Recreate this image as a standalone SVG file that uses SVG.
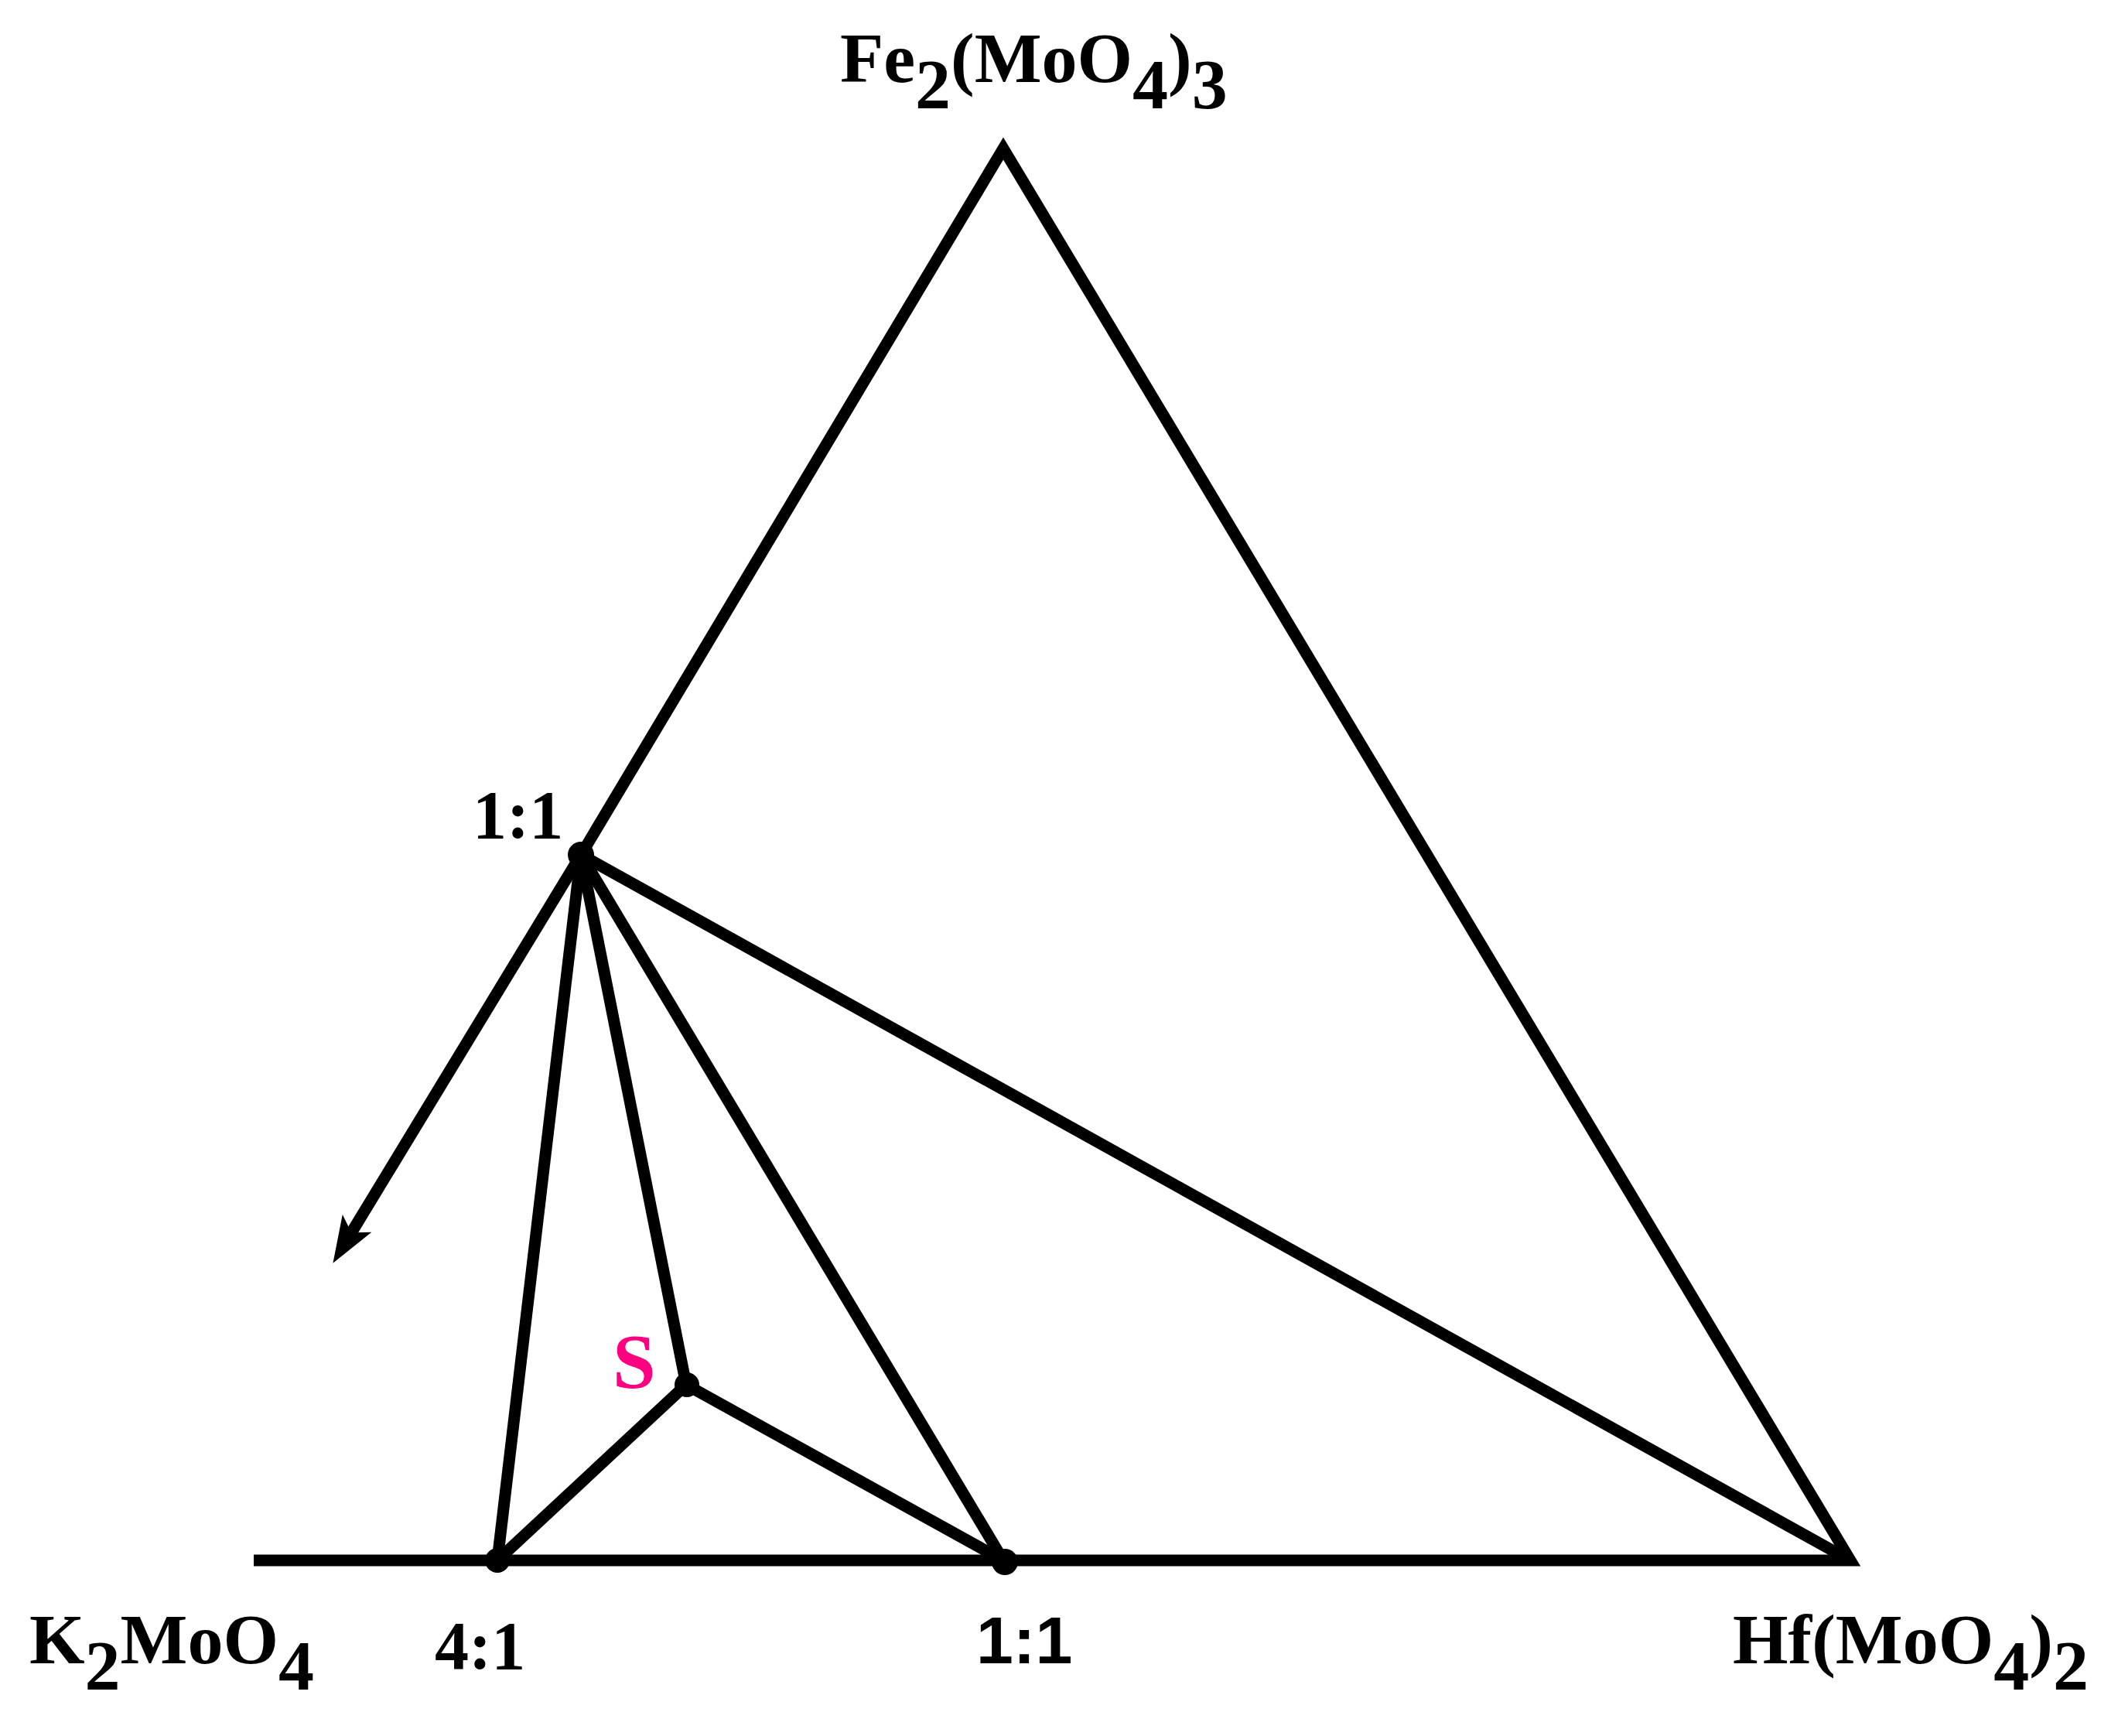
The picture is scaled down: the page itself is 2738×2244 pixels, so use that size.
<svg xmlns="http://www.w3.org/2000/svg" width="2738" height="2244" viewBox="0 0 2738 2244">
<style>
.ln{stroke:#000;stroke-width:15;fill:none;stroke-linejoin:miter;stroke-miterlimit:10}
.lbl{font-family:"Liberation Serif","Times New Roman",serif;font-weight:bold;fill:#000}
.sans{font-family:"Liberation Sans",Arial,sans-serif;font-weight:bold;fill:#000}
.dot{fill:#000}
</style>
<defs>
<marker id="ah" markerUnits="userSpaceOnUse" markerWidth="70" markerHeight="50" refX="30" refY="22" orient="auto">
<path d="M0,0 L60,22 L0,44 L14,22 Z" fill="#000"/>
</marker>
</defs>
<g id="connectors">
<polyline class="ln" points="328,2017 2392,2017 1297,192 751,1105"/>
<line class="ln" x1="751" y1="1105" x2="2392" y2="2017"/>
<line class="ln" x1="751" y1="1105" x2="643" y2="2017"/>
<line class="ln" x1="751" y1="1105" x2="887" y2="1790"/>
<line class="ln" x1="751" y1="1105" x2="1297" y2="2017"/>
<line class="ln" x1="887" y1="1790" x2="643" y2="2017"/>
<line class="ln" x1="887" y1="1790" x2="1297" y2="2017"/>
<line class="ln" x1="751" y1="1105" x2="446" y2="1607" marker-end="url(#ah)"/>
</g>
<g id="node-fe">
<text class="lbl" x="1086" y="106" font-size="92">Fe<tspan dy="34">2</tspan><tspan dy="-34">(MoO</tspan><tspan dy="34">4</tspan><tspan dy="-34">)</tspan><tspan dy="34">3</tspan></text>
</g>
<g id="node-k">
<text class="lbl" x="38" y="2150" font-size="92">K<tspan dy="34">2</tspan><tspan dy="-34">MoO</tspan><tspan dy="34">4</tspan></text>
</g>
<g id="node-hf">
<text class="lbl" x="2240" y="2150" font-size="92">Hf(MoO<tspan dy="34">4</tspan><tspan dy="-34">)</tspan><tspan dy="34">2</tspan></text>
</g>
<g id="node-11-top">
<circle class="dot" cx="751" cy="1105" r="17"/>
<text class="lbl" x="611" y="1083" font-size="88">1:1</text>
</g>
<g id="node-41">
<circle class="dot" cx="643" cy="2017" r="16"/>
<text class="lbl" x="562" y="2157" font-size="88">4:1</text>
</g>
<g id="node-11-bottom">
<circle class="dot" cx="1299" cy="2019" r="17"/>
<text class="sans" x="1262" y="2150" font-size="86">1:1</text>
</g>
<g id="node-s">
<circle class="dot" cx="888" cy="1790" r="16"/>
<text class="lbl" x="792" y="1793" font-size="100" style="fill:#FF0080">S</text>
</g>
</svg>
